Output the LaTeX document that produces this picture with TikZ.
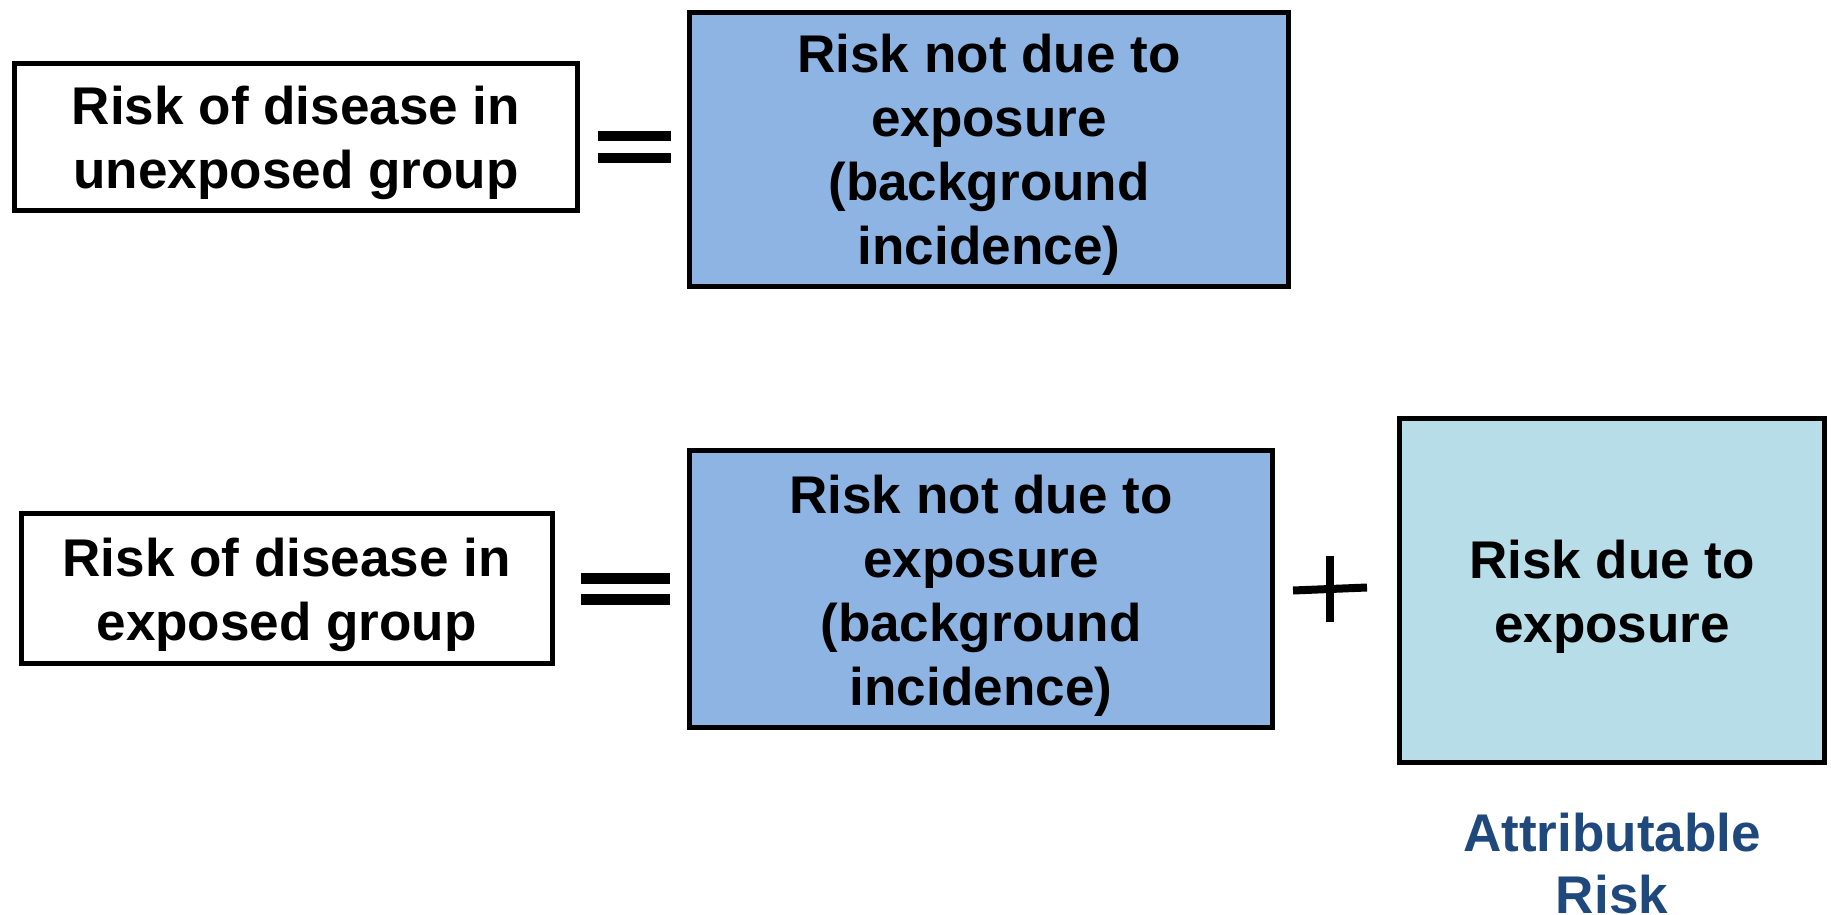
\documentclass[tikz,border=0pt]{standalone}
\usepackage{fontspec}
\setmainfont{Liberation Sans}
\definecolor{bgblue}{HTML}{8EB4E3}
\definecolor{arblue}{HTML}{B7DEE8}
\definecolor{ardark}{HTML}{1F497D}
\tikzset{
  box/.style={draw=black, line width=0.1cm, inner sep=0pt},
  boxtext/.style={inner sep=0pt, align=center,
    font=\fontsize{30.2}{36.4}\selectfont\bfseries},
  bar/.style={fill=black, draw=none},
}
\begin{document}
\begin{tikzpicture}[x=0.02cm, y=-0.02cm]
\useasboundingbox (0,0) rectangle (1831,915);
% top row
\node[box, fill=white, minimum width=11.274cm, minimum height=2.936cm] (unexp) at (296,137) {};
\node[boxtext] (unexpT) at ([yshift=-0.12cm]unexp.center) {Risk of disease in\\unexposed group};
\node[box, fill=bgblue, minimum width=12.0cm, minimum height=5.5cm] (bg1) at (989,149.5) {};
\node[boxtext] (bg1T) at ([yshift=-0.1cm]bg1.center) {Risk not due to\\exposure\\(background\\incidence)};
\fill[bar] (598,131) rectangle (671,141);
\fill[bar] (598,153) rectangle (671,163);
% bottom row
\node[box, fill=white, minimum width=10.62cm, minimum height=3.0cm] (exp) at (286.7,588.5) {};
\node[boxtext] (expT) at ([yshift=-0.12cm]exp.center) {Risk of disease in\\exposed group};
\node[box, fill=bgblue, minimum width=11.672cm, minimum height=5.528cm] (bg2) at (981,589) {};
\node[boxtext] (bg2T) at ([yshift=-0.13cm]bg2.center) {Risk not due to\\exposure\\(background\\incidence)};
\node[box, fill=arblue, minimum width=8.5cm, minimum height=6.88cm] (due) at (1612,590.5) {};
\node[boxtext] (dueT) at ([yshift=-0.12cm]due.center) {Risk due to\\exposure};
\fill[bar] (581,573) rectangle (670,583.5);
\fill[bar] (581,594) rectangle (670,604.5);
% plus sign
\draw[line width=0.16cm] (1330,556) -- (1330,622);
\draw[line width=0.16cm] (1293,590.5) -- (1367,587.5);
% label
\node[font=\fontsize{30.2}{36.4}\selectfont\bfseries, text=ardark, anchor=base] (attr) at (1612,851) {Attributable};
\node[font=\fontsize{30.2}{36.4}\selectfont\bfseries, text=ardark, anchor=base] (attr2) at (1612,913) {Risk};
\end{tikzpicture}
\end{document}
